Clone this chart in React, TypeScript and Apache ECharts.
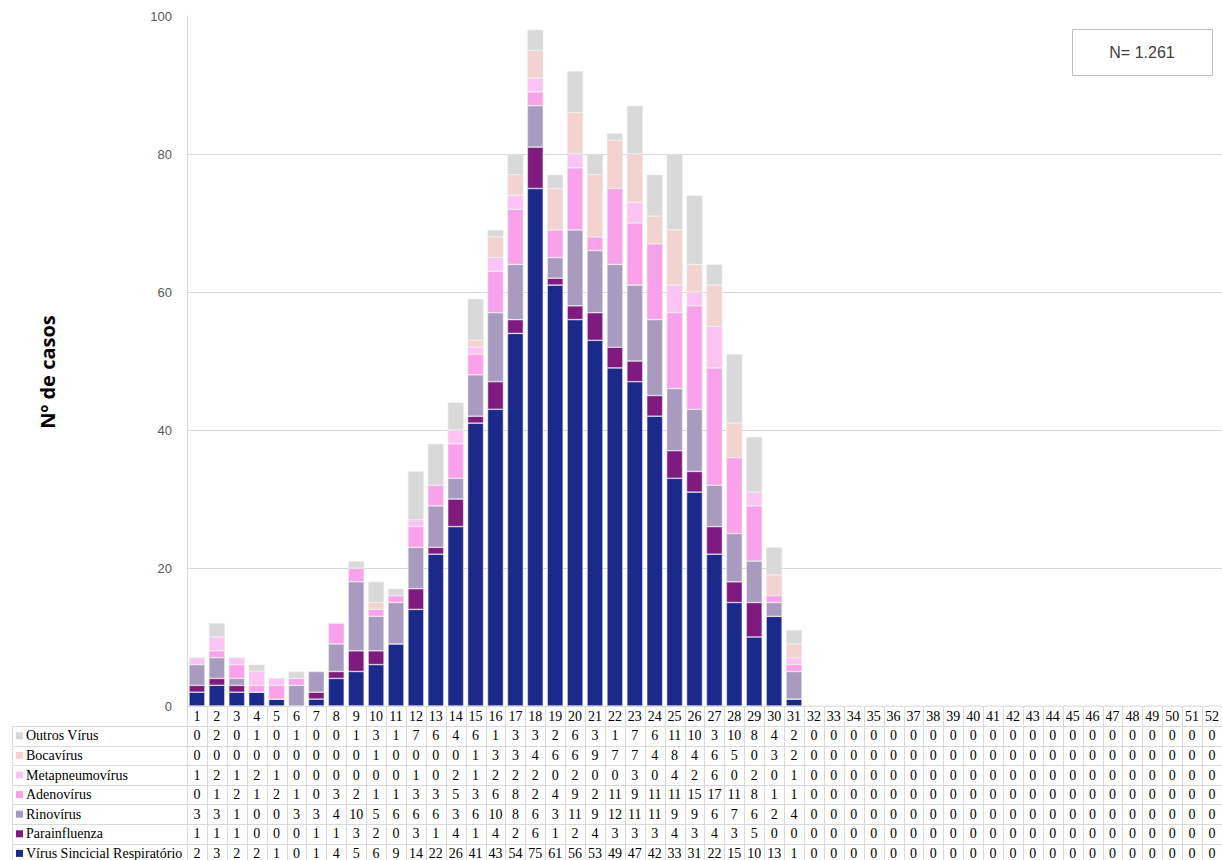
import React, { useEffect, useRef } from "react";
import * as echarts from "echarts";

const weeks: string[] = Array.from({ length: 52 }, (_, i) => String(i + 1));

const seriesNames = [
  "Vírus Sincicial Respiratório",
  "Parainfluenza",
  "Rinovírus",
  "Adenovírus",
  "Metapneumovírus",
  "Bocavírus",
  "Outros Vírus",
];

const colors = ["#1b2a8a", "#7f1a7f", "#a89bbf", "#f9a1ea", "#fcc3f5", "#f2d3d0", "#d9d9d9"];

const z21 = Array(21).fill(0);

const vsr = [2, 3, 2, 2, 1, 0, 1, 4, 5, 6, 9, 14, 22, 26, 41, 43, 54, 75, 61, 56, 53, 49, 47, 42, 33, 31, 22, 15, 10, 13, 1, ...z21];
const parainfluenza = [1, 1, 1, 0, 0, 0, 1, 1, 3, 2, 0, 3, 1, 4, 1, 4, 2, 6, 1, 2, 4, 3, 3, 3, 4, 3, 4, 3, 5, 0, 0, ...z21];
const rinovirus = [3, 3, 1, 0, 0, 3, 3, 4, 10, 5, 6, 6, 6, 3, 6, 10, 8, 6, 3, 11, 9, 12, 11, 11, 9, 9, 6, 7, 6, 2, 4, ...z21];
const adenovirus = [0, 1, 2, 1, 2, 1, 0, 3, 2, 1, 1, 3, 3, 5, 3, 6, 8, 2, 4, 9, 2, 11, 9, 11, 11, 15, 17, 11, 8, 1, 1, ...z21];
const metapneumovirus = [1, 2, 1, 2, 1, 0, 0, 0, 0, 0, 0, 1, 0, 2, 1, 2, 2, 2, 0, 2, 0, 0, 3, 0, 4, 2, 6, 0, 2, 0, 1, ...z21];
const bocavirus = [0, 0, 0, 0, 0, 0, 0, 0, 0, 1, 0, 0, 0, 0, 1, 3, 3, 4, 6, 6, 9, 7, 7, 4, 8, 4, 6, 5, 0, 3, 2, ...z21];
const outros = [0, 2, 0, 1, 0, 1, 0, 0, 1, 3, 1, 7, 6, 4, 6, 1, 3, 3, 2, 6, 3, 1, 7, 6, 11, 10, 3, 10, 8, 4, 2, ...z21];

const seriesData = [vsr, parainfluenza, rinovirus, adenovirus, metapneumovirus, bocavirus, outros];

const yTicks = [0, 20, 40, 60, 80, 100];

export default function App() {
  const ref = useRef<HTMLDivElement>(null);

  useEffect(() => {
    if (!ref.current) return;
    const chart = echarts.init(ref.current, null, { renderer: "svg" });

    const gridLeft = 187;
    const gridTop = 16;
    const gridBottom = 154;
    const gridColor = "#d9d9d9";

    chart.setOption({
      animation: false,
      backgroundColor: "#ffffff",
      grid: { left: gridLeft, right: 0, top: gridTop, bottom: gridBottom, containLabel: false },
      xAxis: {
        type: "category",
        data: weeks,
        axisLine: { show: true, lineStyle: { color: gridColor } },
        axisTick: { show: false },
        axisLabel: {
          interval: 0,
          color: "#000000",
          fontFamily: "Liberation Serif",
          fontSize: 14,
          margin: 3,
        },
        splitLine: { show: false },
      },
      yAxis: {
        type: "value",
        min: 0,
        max: 100,
        interval: 20,
        axisLine: { show: true, lineStyle: { color: gridColor } },
        axisTick: { show: false },
        axisLabel: {
          color: "#595959",
          fontFamily: "Liberation Sans",
          fontSize: 13,
          margin: 15,
          formatter: (v: number) => (yTicks.includes(v) ? String(v) : ""),
        },
        splitLine: {
          show: true,
          lineStyle: {
            color: [gridColor, gridColor, gridColor, gridColor, gridColor, "rgba(0,0,0,0)"],
            width: 1,
          },
        },
      },
      series: seriesNames.map((name, i) => ({
        name,
        type: "bar",
        stack: "total",
        data: seriesData[i],
        barCategoryGap: "20%",
        itemStyle: { color: colors[i], borderColor: "rgba(235,235,235,0.9)", borderWidth: 0.6 },
      })),
    });

    const x0 = chart.convertToPixel({ xAxisIndex: 0 }, 0) as number;
    const x1 = chart.convertToPixel({ xAxisIndex: 0 }, 1) as number;
    const colW = x1 - x0;
    const firstLeft = x0 - colW / 2;
    const tableRight = firstLeft + colW * 52;
    const axisY = 860 - gridBottom;
    const rowTop = 726;
    const rowH = 19.6;
    const tableLeft = 12;
    const lineStyle = { stroke: "#d9d9d9", lineWidth: 1 };

    const elements: any[] = [];
    for (let k = 0; k <= 7; k++) {
      const y = Math.round(rowTop + k * rowH) + 0.5;
      elements.push({ type: "line", shape: { x1: tableLeft, y1: y, x2: tableRight, y2: y }, style: lineStyle, silent: true });
    }
    for (let k = 0; k <= 52; k++) {
      const x = Math.round(firstLeft + k * colW) + 0.5;
      elements.push({ type: "line", shape: { x1: x, y1: axisY, x2: x, y2: 860 }, style: lineStyle, silent: true });
    }
    elements.push({ type: "line", shape: { x1: tableLeft + 0.5, y1: rowTop, x2: tableLeft + 0.5, y2: 860 }, style: lineStyle, silent: true });

    const order = [6, 5, 4, 3, 2, 1, 0];
    order.forEach((si, r) => {
      const cy = rowTop + r * rowH + rowH / 2;
      elements.push({
        type: "rect",
        shape: { x: 16, y: cy - 3.5, width: 7, height: 7 },
        style: { fill: colors[si] },
        silent: true,
      });
      elements.push({
        type: "text",
        x: 26,
        y: cy,
        style: {
          text: seriesNames[si],
          fontFamily: "Liberation Serif",
          fontSize: 14,
          fill: "#000000",
          verticalAlign: "middle",
          align: "left",
        },
        silent: true,
      });
      seriesData[si].forEach((v, ci) => {
        const cx = chart.convertToPixel({ xAxisIndex: 0 }, ci) as number;
        elements.push({
          type: "text",
          x: cx,
          y: cy,
          style: {
            text: String(v),
            fontFamily: "Liberation Serif",
            fontSize: 14,
            fill: "#000000",
            align: "center",
            verticalAlign: "middle",
          },
          silent: true,
        });
      });
    });

    // Y axis title
    elements.push({
      type: "text",
      x: 47,
      y: 372,
      rotation: Math.PI / 2,
      style: {
        text: "Nº de casos",
        fontFamily: "Open Sans",
        fontWeight: "bold",
        fontSize: 20,
        fill: "#000000",
        align: "center",
        verticalAlign: "middle",
      },
      silent: true,
    });

    // N box
    elements.push({
      type: "rect",
      shape: { x: 1072.5, y: 29.5, width: 140, height: 46 },
      style: { fill: "#ffffff", stroke: "#bfbfbf", lineWidth: 1 },
      silent: true,
    });
    elements.push({
      type: "text",
      x: 1142,
      y: 52.5,
      style: {
        text: "N= 1.261",
        fontFamily: "Liberation Sans",
        fontSize: 16,
        fill: "#404040",
        align: "center",
        verticalAlign: "middle",
      },
      silent: true,
    });

    chart.setOption({ graphic: { elements } });

    return () => chart.dispose();
  }, []);

  return (
    <div
      ref={ref}
      style={{ position: "fixed", left: 0, top: 0, width: 1222, height: 860, background: "#fff" }}
    />
  );
}
